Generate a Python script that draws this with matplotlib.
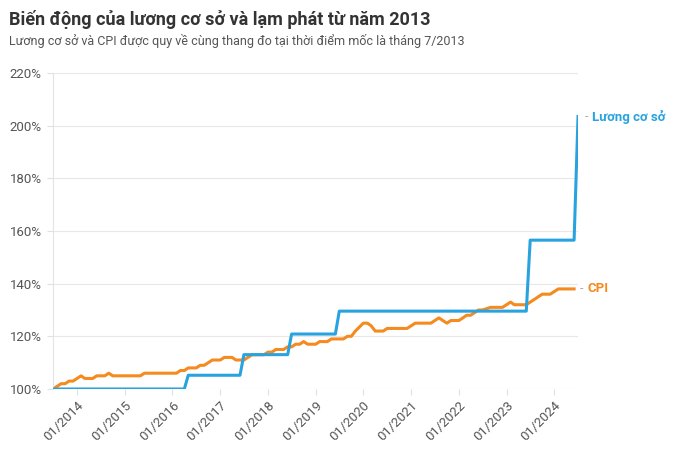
import numpy as np
import pandas as pd
import matplotlib
matplotlib.use('Agg')
import matplotlib.pyplot as plt
import matplotlib.dates as mdates

plt.rcParams['font.family'] = ['Roboto', 'DejaVu Sans']

# luong co so (VND) and the month each level took effect
salary_dates = ['2013-07', '2016-05', '2017-07', '2018-07', '2019-07', '2023-07', '2024-07']
salary_vnd = [1150000, 1210000, 1300000, 1390000, 1490000, 1800000, 2340000]

# CPI, 07/2013 = 100, monthly 07/2013 .. 06/2024
cpi = [100, 101, 102, 102, 103, 103,
       104, 105, 104, 104, 104, 105, 105, 105, 106, 105, 105, 105,
       105, 105, 105, 105, 105, 106, 106, 106, 106, 106, 106, 106,
       106, 106, 107, 107, 108, 108, 108, 109, 109, 110, 111, 111,
       111, 112, 112, 112, 111, 111, 111, 112, 113, 113, 113, 113,
       114, 114, 115, 115, 115, 116, 116, 117, 117, 118, 117, 117,
       117, 118, 118, 118, 119, 119, 119, 119, 120, 120, 122, 123.5,
       125, 125, 124, 122, 122, 122, 123, 123, 123, 123, 123, 123,
       124, 125, 125, 125, 125, 125, 126, 127, 126, 125, 126, 126,
       126, 127, 128, 128, 129, 130, 130, 130.5, 131, 131, 131, 131,
       132, 133, 132, 132, 132, 132, 133, 134, 135, 136, 136, 136,
       137, 138, 138, 138, 138, 138]

months = pd.date_range('2013-07-01', '2024-07-01', freq='MS')
sal = pd.Series(salary_vnd, index=pd.to_datetime(salary_dates)).reindex(months).ffill()
sal_pct = sal / salary_vnd[0] * 100
cpi_dates = months[:len(cpi)]

blue = '#29a3df'
orange = '#f58a1f'

fig = plt.figure(figsize=(6.77, 4.54), dpi=100)
ax = fig.add_axes([0.0783, 0.1432, 0.7755, 0.696])

ax.plot(months, sal_pct, color=blue, lw=2.2, solid_joinstyle='round', zorder=3)
ax.plot(cpi_dates, cpi, color=orange, lw=2.2, solid_joinstyle='round', zorder=2)

ax.set_ylim(100, 220)
ax.set_yticks(np.arange(100, 221, 20))
ax.set_yticklabels([f'{v}%' for v in range(100, 221, 20)])
ax.set_xlim(months[0], months[-1])
ax.xaxis.set_major_locator(mdates.YearLocator(month=1))
ax.xaxis.set_major_formatter(mdates.DateFormatter('%m/%Y'))
for lab in ax.get_xticklabels():
    lab.set_rotation(45)
    lab.set_ha('right')
    lab.set_rotation_mode('anchor')

ax.grid(axis='y', color='#e8e8e8', lw=0.8)
ax.set_axisbelow(True)
for s in ['top', 'right', 'bottom']:
    ax.spines[s].set_visible(False)
ax.spines['left'].set_color('#e4e4e4')
ax.spines['left'].set_linewidth(0.8)
ax.tick_params(axis='both', colors='#e0e0e0', labelcolor='#555555', labelsize=9.5, length=4, width=0.8)
ax.tick_params(axis='y', pad=4)
ax.tick_params(axis='x', pad=3)

# end labels
ax.annotate('-', xy=(months[-1], sal_pct.iloc[-1]), xytext=(4.5, 0), textcoords='offset points',
            color='#aaaaaa', fontsize=9, va='center', annotation_clip=False)
ax.annotate('Lương cơ sở', xy=(months[-1], sal_pct.iloc[-1]), xytext=(10, 0), textcoords='offset points',
            color=blue, fontsize=9.5, fontweight='bold', va='center', annotation_clip=False)
ax.annotate('-', xy=(cpi_dates[-1], cpi[-1]), xytext=(4, 0), textcoords='offset points',
            color='#aaaaaa', fontsize=9, va='center', annotation_clip=False)
ax.annotate('CPI', xy=(cpi_dates[-1], cpi[-1]), xytext=(10, 0), textcoords='offset points',
            color=orange, fontsize=9.5, fontweight='bold', va='center', annotation_clip=False)

fig.text(0.013, 0.957, 'Biến động của lương cơ sở và lạm phát từ năm 2013', fontsize=13,
         fontweight='bold', color='#333333', va='center')
fig.text(0.013, 0.909, 'Lương cơ sở và CPI được quy về cùng thang đo tại thời điểm mốc là tháng 7/2013',
         fontsize=9, color='#555555', va='center')

fig.savefig('out.png', dpi=100)
